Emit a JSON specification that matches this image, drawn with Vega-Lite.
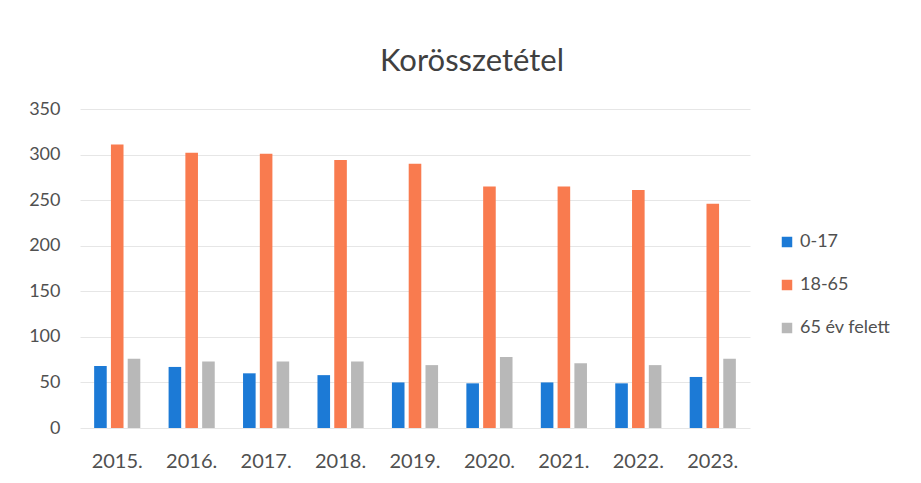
{
  "$schema": "https://vega.github.io/schema/vega-lite/v6.json",
  "width": 670,
  "height": 319,
  "autosize": "none",
  "padding": {"left": 80, "top": 109, "right": 171, "bottom": 55},
  "background": "white",
  "config": {
    "font": "Lato",
    "view": {"stroke": null}
  },
  "title": {
    "text": "Korösszetétel",
    "fontSize": 31,
    "font": "Lato",
    "fontWeight": "normal",
    "color": "#404040",
    "anchor": "middle",
    "frame": "group",
    "dx": 57,
    "offset": 22
  },
  "data": {
    "values": [
      {"ev": "2015.", "kor": "0-17", "ertek": 68},
      {"ev": "2015.", "kor": "18-65", "ertek": 311},
      {"ev": "2015.", "kor": "65 év felett", "ertek": 76},
      {"ev": "2016.", "kor": "0-17", "ertek": 67},
      {"ev": "2016.", "kor": "18-65", "ertek": 302},
      {"ev": "2016.", "kor": "65 év felett", "ertek": 73},
      {"ev": "2017.", "kor": "0-17", "ertek": 60},
      {"ev": "2017.", "kor": "18-65", "ertek": 301},
      {"ev": "2017.", "kor": "65 év felett", "ertek": 73},
      {"ev": "2018.", "kor": "0-17", "ertek": 58},
      {"ev": "2018.", "kor": "18-65", "ertek": 294},
      {"ev": "2018.", "kor": "65 év felett", "ertek": 73},
      {"ev": "2019.", "kor": "0-17", "ertek": 50},
      {"ev": "2019.", "kor": "18-65", "ertek": 290},
      {"ev": "2019.", "kor": "65 év felett", "ertek": 69},
      {"ev": "2020.", "kor": "0-17", "ertek": 49},
      {"ev": "2020.", "kor": "18-65", "ertek": 265},
      {"ev": "2020.", "kor": "65 év felett", "ertek": 78},
      {"ev": "2021.", "kor": "0-17", "ertek": 50},
      {"ev": "2021.", "kor": "18-65", "ertek": 265},
      {"ev": "2021.", "kor": "65 év felett", "ertek": 71},
      {"ev": "2022.", "kor": "0-17", "ertek": 49},
      {"ev": "2022.", "kor": "18-65", "ertek": 261},
      {"ev": "2022.", "kor": "65 év felett", "ertek": 69},
      {"ev": "2023.", "kor": "0-17", "ertek": 56},
      {"ev": "2023.", "kor": "18-65", "ertek": 246},
      {"ev": "2023.", "kor": "65 év felett", "ertek": 76}
    ]
  },
  "mark": {"type": "bar"},
  "encoding": {
    "x": {
      "field": "ev",
      "type": "nominal",
      "sort": null,
      "scale": {"paddingInner": 0.38, "paddingOuter": 0.19},
      "axis": {
        "title": null,
        "labelAngle": 0,
        "labelFontSize": 20,
        "labelColor": "#505050",
        "labelPadding": 23,
        "ticks": false,
        "domain": false
      }
    },
    "xOffset": {
      "field": "kor",
      "type": "nominal",
      "scale": {"paddingInner": 0.25}
    },
    "y": {
      "field": "ertek",
      "type": "quantitative",
      "scale": {"domain": [0, 350]},
      "axis": {
        "title": null,
        "values": [0, 50, 100, 150, 200, 250, 300, 350],
        "labelFontSize": 18,
        "labelColor": "#505050",
        "labelPadding": 20,
        "ticks": false,
        "domain": false,
        "gridColor": "#e6e6e6",
        "gridWidth": 1
      }
    },
    "color": {
      "field": "kor",
      "type": "nominal",
      "scale": {
        "domain": ["0-17", "18-65", "65 év felett"],
        "range": ["#1c7ad6", "#f97b4f", "#b8b8b8"]
      },
      "legend": {
        "title": null,
        "orient": "none",
        "legendX": 698,
        "legendY": 124,
        "symbolType": "square",
        "symbolSize": 110,
        "symbolStrokeWidth": 0,
        "labelFontSize": 18,
        "labelColor": "#505050",
        "rowPadding": 25,
        "labelOffset": 4
      }
    }
  }
}
